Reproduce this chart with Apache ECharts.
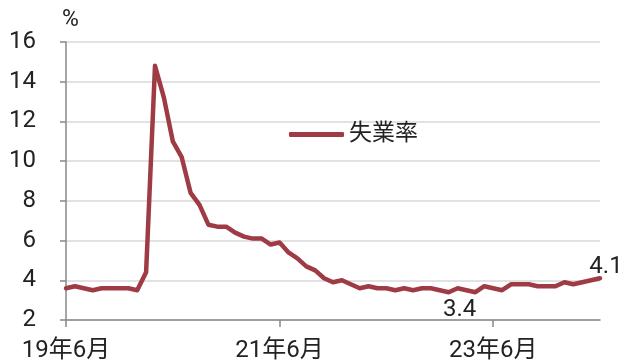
<!DOCTYPE html>
<html>
<head>
<meta charset="utf-8">
<script src="https://cdn.jsdelivr.net/npm/echarts@6/dist/echarts.min.js"></script>
<style>
  html, body { margin: 0; padding: 0; background: #fff; }
  #chart { width: 619px; height: 363px; }
</style>
</head>
<body>
<div id="chart"></div>
<script>
// Monthly unemployment rate (%), June 2019 – June 2024
const months = [
  '19年6月','19年7月','19年8月','19年9月','19年10月','19年11月','19年12月',
  '20年1月','20年2月','20年3月','20年4月','20年5月','20年6月','20年7月','20年8月','20年9月','20年10月','20年11月','20年12月',
  '21年1月','21年2月','21年3月','21年4月','21年5月','21年6月','21年7月','21年8月','21年9月','21年10月','21年11月','21年12月',
  '22年1月','22年2月','22年3月','22年4月','22年5月','22年6月','22年7月','22年8月','22年9月','22年10月','22年11月','22年12月',
  '23年1月','23年2月','23年3月','23年4月','23年5月','23年6月','23年7月','23年8月','23年9月','23年10月','23年11月','23年12月',
  '24年1月','24年2月','24年3月','24年4月','24年5月','24年6月'
];
const unemployment = [
  3.6, 3.7, 3.6, 3.5, 3.6, 3.6, 3.6,
  3.6, 3.5, 4.4, 14.8, 13.2, 11.0, 10.2, 8.4, 7.8, 6.8, 6.7, 6.7,
  6.4, 6.2, 6.1, 6.1, 5.8, 5.9, 5.4, 5.1, 4.7, 4.5, 4.1, 3.9,
  4.0, 3.8, 3.6, 3.7, 3.6, 3.6, 3.5, 3.6, 3.5, 3.6, 3.6, 3.5,
  3.4, 3.6, 3.5, 3.4, 3.7, 3.6, 3.5, 3.8, 3.8, 3.8, 3.7, 3.7,
  3.7, 3.9, 3.8, 3.9, 4.0, 4.1
];
const shownTicks = ['19年6月', '21年6月', '23年6月'];
// months whose value is written next to the line: [position, x offset, y offset]
const labelledMonths = { '23年1月': ['bottom', 11, 1], '24年6月': ['top', 6, 5] };

const lineColor = '#9e3b45';
const textColor = '#222';
const fontFamily = 'Roboto, "Noto Sans CJK JP", sans-serif';

const seriesData = unemployment.map((v, i) => {
  const spec = labelledMonths[months[i]];
  if (!spec) return v;
  return {
    value: v,
    label: {
      show: true,
      position: spec[0],
      offset: [spec[1], spec[2]],
      distance: 4,
      formatter: (p) => p.value.toFixed(1),
      color: textColor,
      fontSize: 24,
      fontFamily: fontFamily
    }
  };
});

const chart = echarts.init(document.getElementById('chart'), null, { renderer: 'canvas' });
chart.setOption({
  animation: false,
  backgroundColor: '#fff',
  textStyle: { fontFamily: fontFamily, color: textColor },
  grid: { left: 66, right: 19, top: 42, bottom: 43, containLabel: false },
  legend: {
    left: 284, top: 118,
    itemWidth: 55, itemHeight: 5, itemGap: 5,
    icon: 'roundRect',
    textStyle: { fontSize: 23, color: textColor, fontFamily: fontFamily },
    data: [{ name: '失業率' }]
  },
  xAxis: {
    type: 'category',
    data: months,
    boundaryGap: false,
    axisLine: { lineStyle: { color: '#888', width: 1.5 } },
    axisTick: {
      show: true, length: 7,
      lineStyle: { color: '#888', width: 1.5 },
      interval: (i, v) => shownTicks.includes(v)
    },
    axisLabel: {
      interval: (i, v) => shownTicks.includes(v),
      color: textColor, fontSize: 24, margin: 19, fontFamily: fontFamily
    },
    splitLine: { show: false }
  },
  yAxis: {
    type: 'value',
    min: 2, max: 16, interval: 2,
    name: '%',
    nameLocation: 'end',
    nameGap: 10,
    nameTextStyle: { color: textColor, fontSize: 23, align: 'left', padding: [0, 0, 0, -4] },
    axisLine: { show: true, lineStyle: { color: '#888', width: 1.5 } },
    axisTick: { show: true, length: 6, lineStyle: { color: '#888', width: 1.5 } },
    axisLabel: { color: textColor, fontSize: 24, margin: 30, fontFamily: fontFamily },
    splitLine: { lineStyle: { color: '#d9d9d9', width: 1.5 } }
  },
  series: [{
    name: '失業率',
    type: 'line',
    data: seriesData,
    symbol: 'circle',
    symbolSize: 1,
    showSymbol: true,
    smooth: false,
    lineStyle: { color: lineColor, width: 4.5, cap: 'round', join: 'round' },
    itemStyle: { color: lineColor }
  }]
});
</script>
</body>
</html>
